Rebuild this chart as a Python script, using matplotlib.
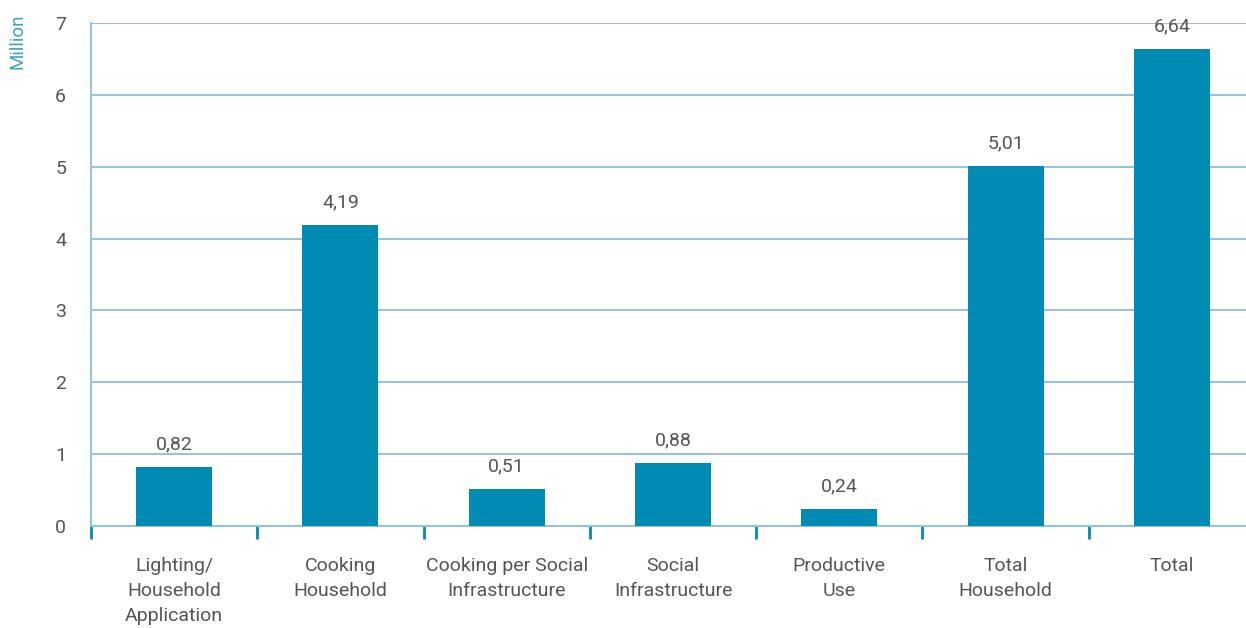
import matplotlib
matplotlib.use("Agg")
import matplotlib.pyplot as plt
import numpy as np

categories = ["Lighting/\nHousehold\nApplication", "Cooking\nHousehold",
              "Cooking per Social\nInfrastructure", "Social\nInfrastructure",
              "Productive\nUse", "Total\nHousehold", "Total"]
values = [0.82, 4.19, 0.51, 0.88, 0.24, 5.01, 6.64]

bar_color = "#008bb4"
grid_color = "#96c4dc"
text_color = "#555555"

plt.rcParams['font.family'] = ['Roboto', 'DejaVu Sans']

fig = plt.figure(figsize=(12.46, 6.28), dpi=100)
ax = fig.add_axes([91/1246, 102/628, 1164/1246, 503/628])

x = np.arange(len(values))
ax.bar(x, values, width=0.457, color=bar_color, zorder=3)

for xi, v in zip(x, values):
    ax.text(xi, v + 0.19, f"{v:.2f}".replace(".", ","), ha="center", va="bottom",
            fontsize=14, color=text_color, zorder=4)

ax.set_xlim(-0.5, len(values) - 0.5)
ax.set_ylim(0, 7)
ax.set_yticks(range(0, 8))
ax.yaxis.grid(True, color=grid_color, linewidth=1.5, zorder=0)
ax.set_axisbelow(True)

# category labels between boundary ticks
ax.set_xticks(np.arange(-0.5, len(values)))
ax.set_xticklabels([])
ax.tick_params(axis="x", which="major", length=9, width=2, color=bar_color, direction="out")
ax.set_xticks(x, minor=True)
ax.set_xticklabels(categories, minor=True, fontsize=14, color=text_color, linespacing=1.5)
ax.tick_params(axis="x", which="minor", length=0, pad=22)
for lab in ax.get_xticklabels(minor=True):
    lab.set_va("top")

ax.tick_params(axis="y", length=0, labelsize=14, labelcolor=text_color, pad=18)

for s in ["top", "right"]:
    ax.spines[s].set_visible(False)
ax.spines["left"].set_color(grid_color)
ax.spines["left"].set_linewidth(1.5)
ax.spines["bottom"].set_color(grid_color)
ax.spines["bottom"].set_linewidth(1.5)

fig.text(17/1246, 1 - 41/628, "Million", rotation=90, ha="center", va="center",
         fontsize=13.5, color="#3ba3c8")

fig.savefig("out.png", dpi=100)
